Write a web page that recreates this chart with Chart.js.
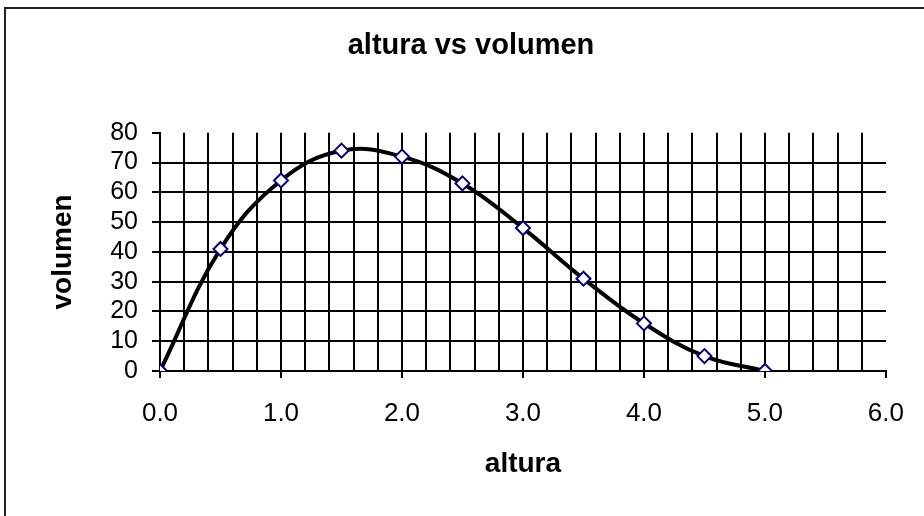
<!DOCTYPE html>
<html>
<head>
<meta charset="utf-8">
<script src="https://cdn.jsdelivr.net/npm/chart.js@4.4.1/dist/chart.umd.min.js"></script>
<style>
  html, body { margin: 0; padding: 0; background: #fff; }
  .wrap { position: relative; width: 924px; height: 516px; overflow: hidden; }
  .frame {
    position: absolute; left: 4px; top: 7px; width: 940px; height: 540px;
    border-left: 2px solid #222; border-top: 2px solid #222;
  }
  canvas { position: absolute; left: 0; top: 0; }
</style>
</head>
<body>
<div class="wrap">
  <div class="frame"></div>
  <canvas id="chart" width="924" height="516"></canvas>
</div>
<script>
  // altura (x) and volumen (y)
  const altura = [0, 0.5, 1.0, 1.5, 2.0, 2.5, 3.0, 3.5, 4.0, 4.5, 5.0];
  const volumen = [0, 41, 64, 74, 72, 63, 48, 31, 16, 5, 0];

  const points = altura.map((a, i) => ({ x: a, y: volumen[i] }));
  const isWhole = v => Math.abs(v - Math.round(v)) < 1e-6;

  const fontFam = '"Liberation Sans", Arial, sans-serif';

  const ctx = document.getElementById('chart');
  new Chart(ctx, {
    type: 'scatter',
    data: {
      datasets: [{
        label: 'volumen',
        data: points,
        showLine: true,
        tension: 0.4,
        borderColor: '#000',
        borderWidth: 4,
        pointStyle: 'rectRot',
        pointRadius: 7,
        pointBackgroundColor: '#fff',
        pointBorderColor: '#000080',
        pointBorderWidth: 2
      }]
    },
    options: {
      responsive: false,
      animation: false,
      layout: { padding: { left: 18, right: 0, top: 0, bottom: 35 } },
      plugins: {
        legend: { display: false },
        tooltip: { enabled: false },
        title: {
          display: true,
          text: 'altura vs volumen',
          color: '#000',
          font: { family: fontFam, size: 29, weight: 'bold' },
          padding: { top: 29, bottom: 69 }
        }
      },
      scales: {
        x: {
          type: 'linear',
          min: 0,
          max: 6,
          afterFit: s => { s.height = 110; },
          border: { color: '#000', width: 2 },
          grid: {
            lineWidth: 2,
            tickLength: 7,
            color: c => (c.tick && Math.abs(c.tick.value - 6) < 1e-6) ? 'rgba(0,0,0,0)' : '#000',
            tickColor: c => (c.tick && isWhole(c.tick.value)) ? '#000' : 'rgba(0,0,0,0)'
          },
          ticks: {
            stepSize: 0.2,
            autoSkip: false,
            maxRotation: 0,
            padding: 20,
            color: '#000',
            font: { family: fontFam, size: 26 },
            callback: v => isWhole(v) ? Number(v).toFixed(1) : ''
          },
          title: {
            display: true,
            text: 'altura',
            color: '#000',
            font: { family: fontFam, size: 28, weight: 'bold' },
            padding: { top: 0, bottom: 0 }
          }
        },
        y: {
          min: 0,
          max: 80,
          afterFit: s => { s.width = 142; },
          border: { color: '#000', width: 2 },
          grid: {
            lineWidth: 2,
            tickLength: 8,
            color: c => (c.tick && c.tick.value === 80) ? 'rgba(0,0,0,0)' : '#000',
            tickColor: '#000'
          },
          ticks: {
            stepSize: 10,
            autoSkip: false,
            padding: 14,
            color: '#000',
            font: { family: fontFam, size: 25 }
          },
          title: {
            display: true,
            text: 'volumen',
            color: '#000',
            font: { family: fontFam, size: 28, weight: 'bold' },
            padding: { top: 28, bottom: 0 }
          }
        },
        // empty right-hand axis, only to hold the space right of the plot
        yRight: {
          position: 'right',
          afterFit: s => { s.width = 32; },
          border: { display: false },
          grid: { display: false },
          ticks: { display: false }
        }
      }
    }
  });
</script>
</body>
</html>
